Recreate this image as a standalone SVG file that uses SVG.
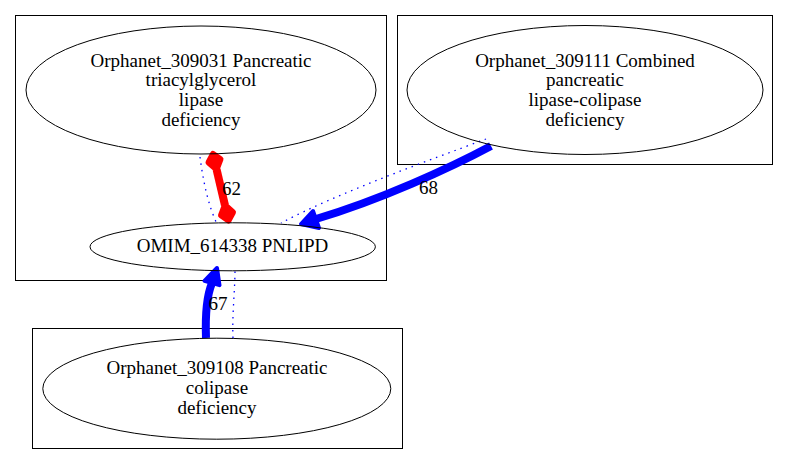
<svg xmlns="http://www.w3.org/2000/svg" width="789" height="465" viewBox="0 0 789 465">
<style>
.cl{fill:none;stroke:#000;stroke-width:1}
.nd{fill:none;stroke:#000;stroke-width:1}
text{font-size:19px;fill:#000;text-anchor:middle}
.thick{fill:none;stroke:#0000ff;stroke-width:8}
.ah{fill:#0000ff;stroke:#0000ff;stroke-width:4;stroke-linejoin:round}
.dot{fill:none;stroke:#0000ff;stroke-width:1.3;stroke-dasharray:1.5,5}
.red{fill:none;stroke:#ff0000;stroke-width:8}
.rd{fill:#ff0000;stroke:#ff0000;stroke-width:6;stroke-linejoin:round}
</style>
<rect width="789" height="465" fill="#fff"/>
<g id="cluster_1"><rect class="cl" x="15.5" y="15.5" width="371" height="265"/></g>
<g id="cluster_2"><rect class="cl" x="397.5" y="15.5" width="375" height="149"/></g>
<g id="cluster_3"><rect class="cl" x="32.5" y="328.5" width="370" height="120"/></g>
<g font-family="'Liberation Serif', 'DejaVu Serif', 'Times New Roman', serif">
<g id="connectors">
<path class="dot" d="M200,157 C203,180 208,205 217,224"/>
<path class="red" d="M216.6,169.5 L224.9,205"/>
<polygon class="rd" points="213,154 208.5,162.5 216.6,169.5 220.5,159.3"/>
<polygon class="rd" points="228.5,220.5 233,212.3 224.9,205 221,215.3"/>
<path class="dot" d="M486,139 C430,160 340,192 281,223"/>
<path class="thick" d="M491,146 C450,168 380,200 316,219"/>
<polygon class="ah" points="301,224 313,211 319,228"/>
<path class="dot" d="M233,338 C232,315 235,290 235,270"/>
<path class="thick" d="M206,338 C205,310 207,295 212,283"/>
<polygon class="ah" points="217,268 204.5,280.8 219.5,285.2"/>
<text x="231.5" y="195">62</text>
<text x="428.5" y="194">68</text>
<text x="218" y="310">67</text>
</g>
<g id="node_309031">
<ellipse class="nd" cx="201" cy="90" rx="175" ry="64"/>
<text x="201" y="66.7">Orphanet_309031 Pancreatic</text>
<text x="201" y="86.4">triacylglycerol</text>
<text x="201" y="106">lipase</text>
<text x="201" y="125.7">deficiency</text>
</g>
<g id="node_309111">
<ellipse class="nd" cx="585" cy="90" rx="178" ry="64.5"/>
<text x="585" y="66.7">Orphanet_309111 Combined</text>
<text x="585" y="86.4">pancreatic</text>
<text x="585" y="106">lipase-colipase</text>
<text x="585" y="125.7">deficiency</text>
</g>
<g id="node_614338">
<ellipse class="nd" cx="232.7" cy="246.8" rx="142.7" ry="24"/>
<text x="232.5" y="252.3">OMIM_614338 PNLIPD</text>
</g>
<g id="node_309108">
<ellipse class="nd" cx="216.8" cy="388.7" rx="174" ry="50.5"/>
<text x="217" y="374">Orphanet_309108 Pancreatic</text>
<text x="217" y="394.3">colipase</text>
<text x="217" y="414">deficiency</text>
</g>
</g>
</svg>
